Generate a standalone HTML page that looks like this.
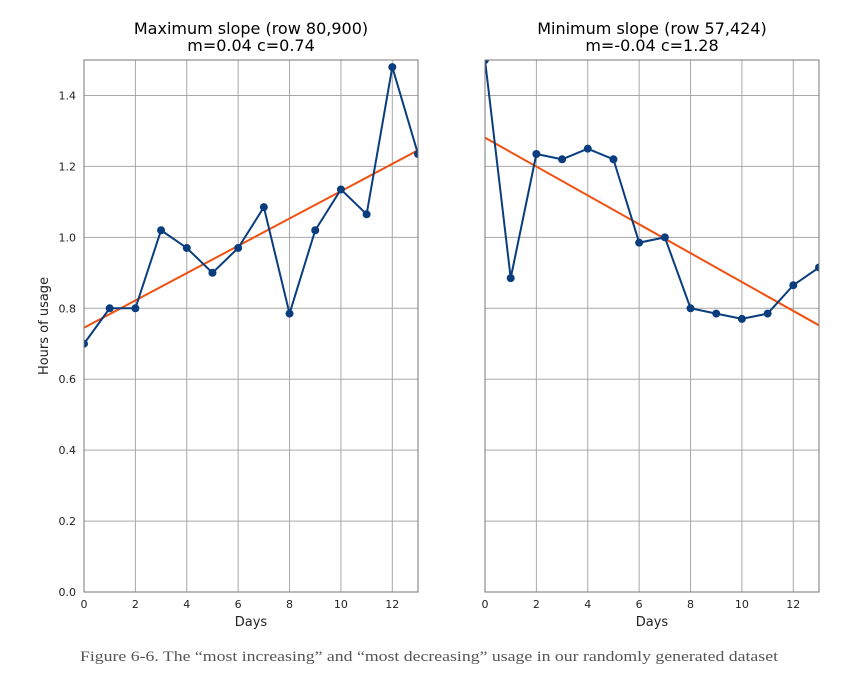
<!DOCTYPE html>
<html><head><meta charset="utf-8"><style>
body{margin:0;background:#fff;width:856px;height:686px;overflow:hidden}
svg text{font-family:"DejaVu Sans","Liberation Sans",sans-serif}
</style></head><body>
<svg id="c" width="856" height="686" xmlns="http://www.w3.org/2000/svg"></svg>
<script>
const days=[0,1,2,3,4,5,6,7,8,9,10,11,12,13];
const maxSeries=[0.70,0.80,0.80,1.02,0.97,0.90,0.97,1.085,0.785,1.02,1.135,1.065,1.48,1.235];
const minSeries=[1.50,0.885,1.235,1.22,1.25,1.22,0.985,1.0,0.80,0.785,0.77,0.785,0.865,0.915];
const maxFit=[0.0385,0.745];
const minFit=[-0.0407,1.281];
const xTicks=[0,2,4,6,8,10,12];
const yTicks=[0,0.2,0.4,0.6,0.8,1.0,1.2,1.4];
const titles=[["Maximum slope (row 80,900)","m=0.04 c=0.74"],["Minimum slope (row 57,424)","m=-0.04 c=1.28"]];
const NS="http://www.w3.org/2000/svg";
const svg=document.getElementById('c');
function mk(t,a,p){const e=document.createElementNS(NS,t);for(const k in a)e.setAttribute(k,a[k]);(p||svg).appendChild(e);return e;}
const plotTop=60,plotBot=592,yMax=1.5;
function Y(v){return plotBot-v/yMax*(plotBot-plotTop);}
const defs=mk('defs',{});
function panel(x0,x1,series,fit,ttl,showY,name,cid){
  const cp=mk('clipPath',{id:cid},defs);
  mk('rect',{x:x0,y:plotTop,width:x1-x0,height:plotBot-plotTop},cp);
  const g=mk('g',{});
  
  
  const X=d=>x0+d/13*(x1-x0);
  xTicks.forEach(t=>{
    const l=mk('line',{x1:X(t),x2:X(t),y1:plotTop,y2:plotBot,stroke:'#a8a8a8','stroke-width':1},g);
    
    
    const tx=mk('text',{x:X(t),y:plotBot+16,'font-size':11,'text-anchor':'middle',fill:'#222'},g);tx.textContent=t;
    
    
  });
  yTicks.forEach(t=>{
    const l=mk('line',{x1:x0,x2:x1,y1:Y(t),y2:Y(t),stroke:'#a8a8a8','stroke-width':1},g);
    
    
    if(showY){const tx=mk('text',{x:x0-8,y:Y(t)+4,'font-size':11,'text-anchor':'end',fill:'#222'},g);tx.textContent=t.toFixed(1);
    
    }
  });
  const dg=mk('g',{'clip-path':'url(#'+cid+')'},g);
  const fl=mk('line',{x1:X(0),y1:Y(fit[1]),x2:X(13),y2:Y(fit[1]+fit[0]*13),stroke:'#f0500f','stroke-width':2},dg);
  
  
  const pl=mk('polyline',{points:days.map((d,i)=>X(d)+','+Y(series[i])).join(' '),fill:'none',stroke:'#0a3d7d','stroke-width':2},dg);
  
  
  days.forEach((d,i)=>{const c=mk('circle',{cx:X(d),cy:Y(series[i]),r:4,fill:'#0a3d7d'},dg);
    
    });
  const r=mk('rect',{x:x0,y:plotTop,width:x1-x0,height:plotBot-plotTop,fill:'none',stroke:'#777','stroke-width':1},g);
  
  
  ttl.forEach((s,i)=>{const t=mk('text',{x:(x0+x1)/2,y:34+i*17,'font-size':16,'text-anchor':'middle',fill:'#000'},g);t.textContent=s;
    
    });
  const xl=mk('text',{x:(x0+x1)/2,y:626,'font-size':13,'text-anchor':'middle',fill:'#222'},g);xl.textContent='Days';
  
  
}
panel(84,418,maxSeries,maxFit,titles[0],true,'max-slope-panel','clipA');
panel(485,819,minSeries,minFit,titles[1],false,'min-slope-panel','clipB');
const yl=mk('text',{x:48,y:326,'font-size':13,'text-anchor':'middle',fill:'#222',transform:'rotate(-90 48 326)'});yl.textContent='Hours of usage';


const cap=mk('text',{x:80,y:661,'font-size':15,fill:'#555',textLength:698,lengthAdjust:'spacingAndGlyphs','style':'font-family:"Liberation Serif",serif'});cap.textContent='Figure 6-6. The “most increasing” and “most decreasing” usage in our randomly generated dataset';


</script>
</body></html>
